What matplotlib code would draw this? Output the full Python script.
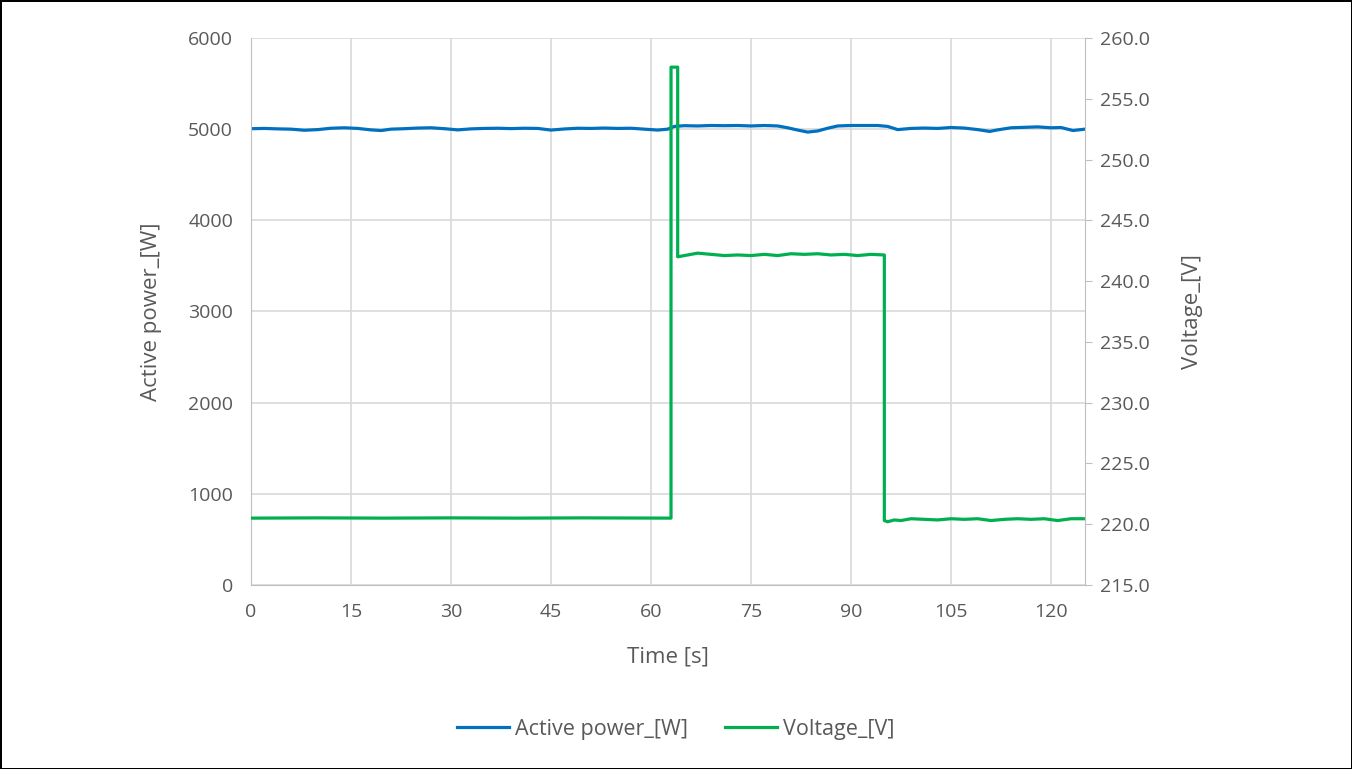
import matplotlib.pyplot as plt
from matplotlib.ticker import MultipleLocator, FormatStrFormatter

plt.rcParams['font.family'] = ['Open Sans', 'DejaVu Sans']

# data
t_power = [0, 2, 4, 6, 8, 10, 12, 14, 16, 18, 19.5, 21, 23, 25, 27, 29, 31, 33,
           35, 37, 39, 41, 43, 45, 47, 49, 51, 53, 55, 57, 59, 61, 62.5, 63.5,
           65, 67, 69, 71, 73, 75, 77, 79, 80.5, 82, 83.5, 85, 86.5, 88, 90,
           92, 94, 95.5, 97, 99, 101, 103, 105, 107, 109, 110.8, 112, 114, 116,
           118, 120, 121.5, 123.3, 125.1]
p_values = [5005, 5008, 5003, 5000, 4988, 4995, 5010, 5015, 5008, 4992, 4985,
            5000, 5005, 5012, 5015, 5005, 4992, 5003, 5008, 5010, 5006, 5010,
            5008, 4990, 5002, 5010, 5008, 5012, 5008, 5010, 5000, 4990, 5000,
            5030, 5038, 5035, 5040, 5038, 5040, 5035, 5040, 5035, 5015, 4990,
            4968, 4980, 5010, 5035, 5040, 5040, 5040, 5030, 4995, 5008, 5012,
            5008, 5018, 5012, 4995, 4975, 4992, 5015, 5020, 5025, 5015, 5018,
            4985, 5000]

t_volt = [0, 10, 20, 30, 40, 50, 63.0, 63.0, 64.0, 64.0, 65, 67, 69, 71, 73,
          75, 77, 79, 81, 83, 85, 87, 89, 91, 93, 95.0, 95.0, 95.5, 96.5, 97.5,
          99, 101, 103, 105, 107, 109, 111, 113, 115, 117, 119, 121, 123, 125.1]
v_values = [220.5, 220.52, 220.5, 220.52, 220.5, 220.52, 220.5, 257.6, 257.6,
            242.0, 242.1, 242.3, 242.2, 242.1, 242.15, 242.1, 242.2, 242.1,
            242.25, 242.2, 242.25, 242.15, 242.2, 242.1, 242.2, 242.15, 220.3,
            220.2, 220.35, 220.3, 220.45, 220.4, 220.35, 220.45, 220.4, 220.45,
            220.3, 220.4, 220.45, 220.4, 220.45, 220.3, 220.45, 220.45]

text_c = '#595959'
grid_c = '#D9D9D9'
axis_c = '#BFBFBF'

fig = plt.figure(figsize=(13.52, 7.69), dpi=100)
fig.patch.set_edgecolor('black')
fig.patch.set_linewidth(2)
ax = fig.add_axes([0.1857, 0.2393, 0.6168, 0.7113])
ax2 = ax.twinx()

l1, = ax.plot(t_power, p_values, color='#0070C0', lw=2.3, label='Active power_[W]')
l2, = ax2.plot(t_volt, v_values, color='#00B050', lw=2.3, label='Voltage_[V]')

ax.set_xlim(0, 125.1)
ax.set_ylim(0, 6000)
ax2.set_ylim(215, 260)
ax.xaxis.set_major_locator(MultipleLocator(15))
ax.yaxis.set_major_locator(MultipleLocator(1000))
ax2.yaxis.set_major_locator(MultipleLocator(5))
ax2.yaxis.set_major_formatter(FormatStrFormatter('%.1f'))

ax.grid(True, color=grid_c, lw=1.2)
ax.set_axisbelow(True)
for a in (ax, ax2):
    for s in a.spines.values():
        s.set_visible(False)
ax.spines['left'].set_visible(True)
ax.spines['bottom'].set_visible(True)
ax2.spines['right'].set_visible(True)
ax.spines['left'].set_color(axis_c)
ax.spines['bottom'].set_color(axis_c)
ax2.spines['right'].set_color(axis_c)

ax.tick_params(axis='both', length=0, labelsize=14, colors=text_c, pad=13)
ax2.tick_params(axis='y', length=5, color=axis_c, labelsize=14, labelcolor=text_c, pad=6)

ax.set_xlabel('Time [s]', fontsize=16, color=text_c, labelpad=18)
ax.set_ylabel('Active power_[W]', fontsize=16, color=text_c, labelpad=19)
ax2.set_ylabel('Voltage_[V]', fontsize=16, color=text_c, labelpad=23)

fig.legend(handles=[l1, l2], loc='center', bbox_to_anchor=(0.5, 0.052), ncol=2,
           frameon=False, fontsize=15.5, labelcolor=text_c, handlelength=2.4,
           handletextpad=0.3, columnspacing=1.7)

fig.savefig('out.png', dpi=100)
